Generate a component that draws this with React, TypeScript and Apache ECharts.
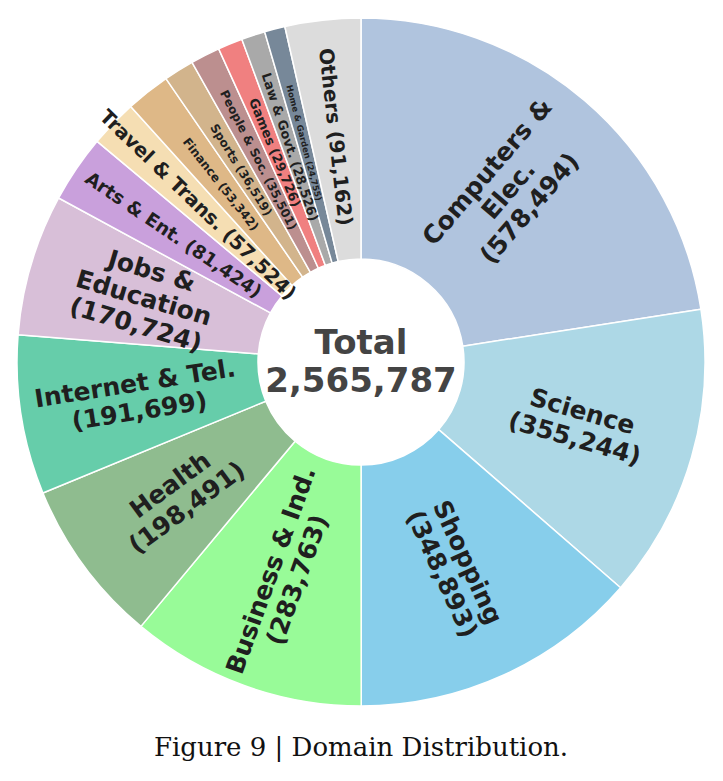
import React, { useEffect, useRef } from "react";
import * as echarts from "echarts";

const categories = [
  "Computers &\nElec.",
  "Science",
  "Shopping",
  "Business & Ind.",
  "Health",
  "Internet & Tel.",
  "Jobs &\nEducation",
  "Arts & Ent.",
  "Travel & Trans.",
  "Finance",
  "Sports",
  "People & Soc.",
  "Games",
  "Law & Govt.",
  "Home & Garden",
  "Others",
];
const values = [
  578494, 355244, 348893, 283763, 198491, 191699, 170724, 81424, 57524, 53342,
  36519, 35501, 29726, 28526, 24755, 91162,
];
const multiLine = [true, true, true, true, true, true, true, false, false, false, false, false, false, false, false, false];
const colors = [
  "#B0C4DE", "#ADD8E6", "#87CEEB", "#98FB98", "#8FBC8F", "#66CDAA", "#D8BFD8",
  "#C9A0DC", "#F5DEB3", "#DEB887", "#D2B48C", "#BC8F8F", "#F08080", "#A9A9A9",
  "#778899", "#DCDCDC",
];
const fontSizes = [25, 25, 25, 25, 25, 25, 25, 18.5, 19.5, 12, 12, 12, 13, 13, 8.5, 20];
const totalLabel = "Total";
const caption = "Figure 9 | Domain Distribution.";

const fmt = (n: number) => n.toLocaleString("en-US");

export default function App() {
  const ref = useRef<HTMLDivElement>(null);
  useEffect(() => {
    document.body.style.margin = "0";
    const chart = echarts.init(ref.current!, undefined, { renderer: "svg" });
    const total = values.reduce((a, b) => a + b, 0);
    const data = categories.map((c, i) => ({
      name: c,
      value: values[i],
      itemStyle: { color: colors[i] },
      label: {
        fontSize: fontSizes[i],
        lineHeight: Math.round(fontSizes[i] * 1.1),
        formatter: (multiLine[i] ? c + "\n" : c + " ") + "(" + fmt(values[i]) + ")",
      },
    }));
    chart.setOption({
      animation: false,
      backgroundColor: "#ffffff",
      series: [
        {
          type: "pie",
          center: [361, 362],
          radius: [103, 344],
          startAngle: 90,
          clockwise: true,
          avoidLabelOverlap: false,
          labelLayout: { hideOverlap: false },
          itemStyle: { borderColor: "#ffffff", borderWidth: 1.5 },
          label: {
            show: true,
            position: "inside",
            rotate: "radial",
            color: "#1f1f1f",
            fontWeight: "bold",
            fontFamily: "DejaVu Sans",
            align: "center",
          },
          labelLine: { show: false },
          emphasis: { disabled: true },
          data,
        },
      ],
      graphic: [
        {
          type: "text",
          x: 361,
          y: 342,
          style: {
            text: totalLabel,
            fontSize: 34,
            fontWeight: "bold",
            fontFamily: "DejaVu Sans",
            fill: "#444444",
            align: "center",
            verticalAlign: "middle",
          },
        },
        {
          type: "text",
          x: 361,
          y: 380,
          style: {
            text: fmt(total),
            fontSize: 34,
            fontWeight: "bold",
            fontFamily: "DejaVu Sans",
            fill: "#444444",
            align: "center",
            verticalAlign: "middle",
          },
        },
        {
          type: "text",
          x: 361,
          y: 747,
          style: {
            text: caption,
            fontSize: 26,
            fontFamily: "DejaVu Serif",
            fill: "#111111",
            align: "center",
            verticalAlign: "middle",
          },
        },
      ],
    });
    return () => chart.dispose();
  }, []);
  return <div ref={ref} style={{ width: 723, height: 781 }} />;
}
